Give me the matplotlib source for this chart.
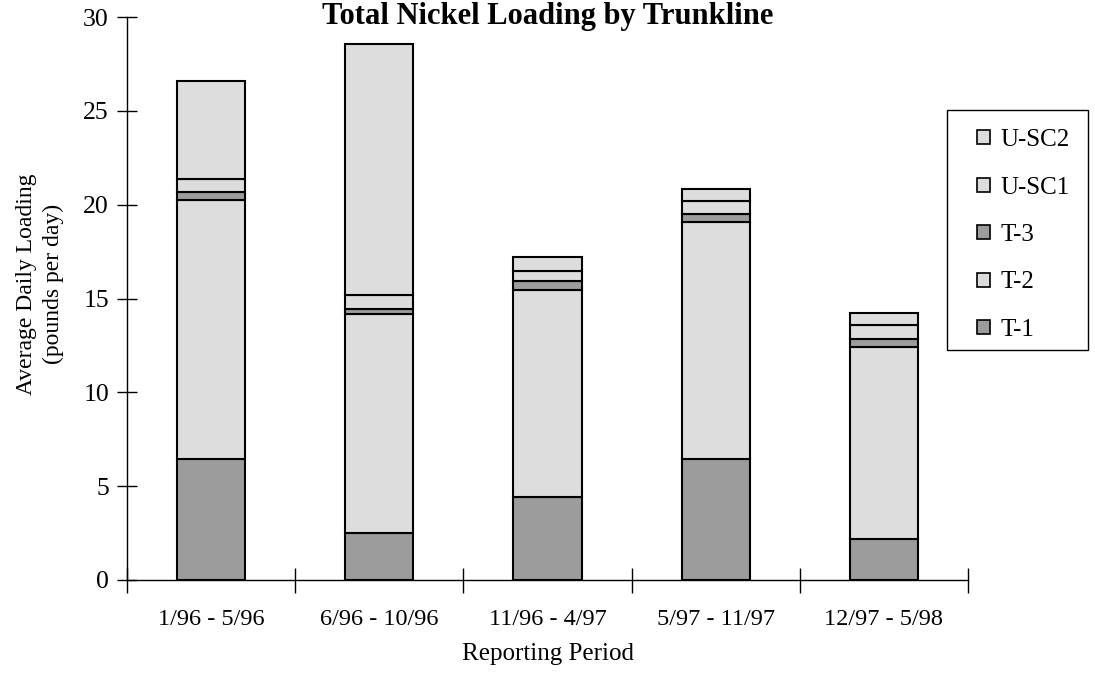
import numpy as np
import matplotlib
matplotlib.use("Agg")
import matplotlib.pyplot as plt
from matplotlib.patches import Patch, Rectangle

plt.rcParams['font.family'] = ['Liberation Serif', 'DejaVu Serif']

# reporting periods and the loadings of each trunkline (pounds per day)
periods = ["1/96 - 5/96", "6/96 - 10/96", "11/96 - 4/97", "5/97 - 11/97", "12/97 - 5/98"]
t1 = [6.45, 2.50, 4.40, 6.45, 2.20]
t2 = [13.80, 11.67, 11.07, 12.61, 10.20]
t3 = [0.42, 0.25, 0.44, 0.46, 0.42]
usc1 = [0.69, 0.76, 0.54, 0.67, 0.75]
usc2 = [5.21, 13.38, 0.74, 0.62, 0.65]

names = ["T-1", "T-2", "T-3", "U-SC1", "U-SC2"]
series = [t1, t2, t3, usc1, usc2]
light = "#dddddd"
dark = "#9c9c9c"
colors = [dark, light, dark, light, light]

W, H = 1095, 681
fig = plt.figure(figsize=(W/100, H/100), dpi=100)
ax = fig.add_axes([127/W, 1-580/H, (968-127)/W, (580-17)/H])

x = np.arange(len(periods))
bottom = np.zeros(len(periods))
for nm, vals, c in zip(names, series, colors):
    ax.bar(x, vals, width=0.405, bottom=bottom, color=c, edgecolor="black",
           linewidth=1.5, label=nm)
    bottom += np.array(vals)

ax.set_xlim(-0.5, len(periods) - 0.5)
ax.set_ylim(0, 30)
ax.set_yticks(range(0, 31, 5))
ax.set_xticks(np.arange(-0.5, len(periods), 1.0))
ax.set_xticklabels([])
ax.set_xticks(x, minor=True)
ax.set_xticklabels(periods, minor=True, fontsize=17.5)
ax.tick_params(axis='x', which='minor', length=0, pad=21)
ax.tick_params(axis='x', which='major', direction='inout', length=18, width=1)
ax.tick_params(axis='y', direction='inout', length=14, width=1, labelsize=18.5, pad=6)
for s in ['top', 'right']:
    ax.spines[s].set_visible(False)
ax.spines['left'].set_linewidth(1)
ax.spines['bottom'].set_linewidth(1)

ax.set_xlabel("Reporting Period", fontsize=18, labelpad=9)
ax.set_ylabel("Average Daily Loading\n(pounds per day)", fontsize=17,
              linespacing=1.35)
ax.yaxis.set_label_coords((64 - 127) / 841, (580 - 284) / 563)

fig.text(0.5, 1 - 24/H, "Total Nickel Loading by Trunkline", ha='center',
         va='baseline', fontsize=22, fontweight='bold')

# legend: plain box with the entries inside
fig.patches.append(Rectangle((947/W, 1-350/H), (1088-947)/W, 240/H,
                             transform=fig.transFigure, facecolor='white',
                             edgecolor='black', linewidth=1))
handles = [Patch(facecolor=c, edgecolor='black', linewidth=1.2, label=nm)
           for nm, c in zip(names, colors)][::-1]
fig.legend(handles=handles, loc='upper left',
           bbox_to_anchor=(977/W, 1 - 129/H), fontsize=18, frameon=False,
           handlelength=0.5, handleheight=0.5, handletextpad=0.45,
           labelspacing=1.02, borderpad=0, borderaxespad=0)

fig.savefig("out.png", dpi=100)
